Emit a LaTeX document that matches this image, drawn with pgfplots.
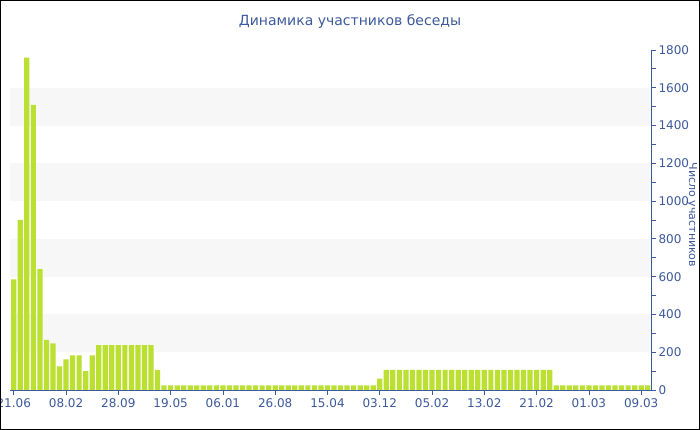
\documentclass[border=0pt]{standalone}
\usepackage{fontspec}
\setmainfont{DejaVu Sans}
\usepackage{pgfplots}
\usepackage{pgfplotstable}
\pgfplotsset{compat=1.18}
\definecolor{barc}{HTML}{BBE032}
\definecolor{txt}{HTML}{3D5A9C}
\definecolor{band}{HTML}{F7F7F7}

\pgfplotstableread{
x y
0 585
1 900
2 1760
3 1510
4 640
5 265
6 247
7 125
8 162
9 183
10 183
11 100
12 183
13 238
14 238
15 238
16 238
17 238
18 238
19 238
20 238
21 238
22 106
23 25
24 25
25 25
26 25
27 25
28 25
29 25
30 25
31 25
32 25
33 25
34 25
35 25
36 25
37 25
38 25
39 25
40 25
41 25
42 25
43 25
44 25
45 25
46 25
47 25
48 25
49 25
50 25
51 25
52 25
53 25
54 25
55 25
56 60
57 106
58 106
59 106
60 106
61 106
62 106
63 106
64 106
65 106
66 106
67 106
68 106
69 106
70 106
71 106
72 106
73 106
74 106
75 106
76 106
77 106
78 106
79 106
80 106
81 106
82 106
83 25
84 25
85 25
86 25
87 25
88 25
89 25
90 25
91 25
92 25
93 25
94 25
95 25
96 25
97 25
}\datatable

\begin{document}
\begin{tikzpicture}[x=1pt,y=1pt]
\fill[white] (0,0) rectangle (700,430);
\begin{scope}
\clip (0,0) rectangle (700,430);
\begin{axis}[
  at={(10.5pt,40pt)}, anchor=south west,
  scale only axis, width=640.5pt, height=340pt,
  xmin=-0.5, xmax=97.5, ymin=0, ymax=1800,
  axis x line*=bottom, axis y line*=right,
  axis line style={txt, line width=0.8pt},
  xtick={0,8,...,96},
  xticklabels={21.06,08.02,28.09,19.05,06.01,26.08,15.04,03.12,05.02,13.02,21.02,01.03,09.03},
  ytick={0,200,...,1800},
  minor y tick num=1,
  tick align=outside,
  major tick length=5pt, minor tick length=5pt,
  tick style={txt, line width=0.8pt},
  minor tick style={txt, line width=0.8pt},
  xtick pos=bottom, ytick pos=right,
  tick label style={font=\fontsize{12}{14}\selectfont, text=txt},
  /pgf/number format/assume math mode=true,
  /pgf/number format/1000 sep={},
  yticklabel style={xshift=-1pt},
  clip=false,
]
\fill[band] (axis cs:-0.5,200) rectangle (axis cs:97.5,400);
\fill[band] (axis cs:-0.5,600) rectangle (axis cs:97.5,800);
\fill[band] (axis cs:-0.5,1000) rectangle (axis cs:97.5,1200);
\fill[band] (axis cs:-0.5,1400) rectangle (axis cs:97.5,1600);
\addplot[ybar, bar width=0.8, fill=barc, draw=none] table[x=x,y=y] {\datatable};
\end{axis}
\node[rotate=-90, anchor=base, text=txt, font=\fontsize{11}{13}\selectfont] at (689,215) {Число участников};
\node[text=txt, font=\fontsize{14}{17}\selectfont] at (350,408) {Динамика участников беседы};
\end{scope}
\draw[black, line width=2pt] (0,0) rectangle (700,430);
\pgfresetboundingbox
\useasboundingbox (0,0) rectangle (700,430);
\end{tikzpicture}
\end{document}
